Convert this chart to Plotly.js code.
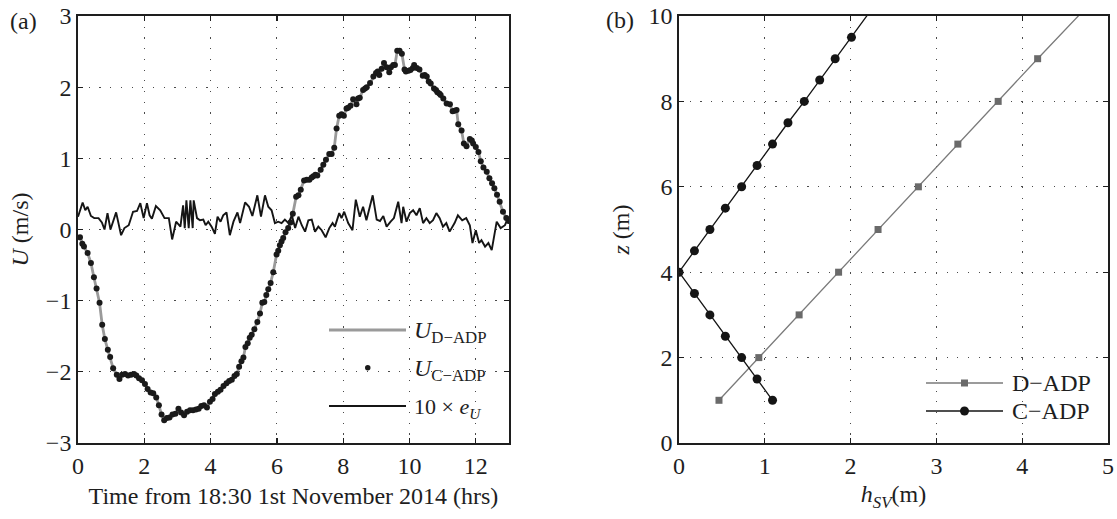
<!DOCTYPE html>
<html>
<head>
<meta charset="utf-8">
<script src="https://cdn.plot.ly/plotly-3.0.1.min.js"></script>
<style>
  html, body { margin: 0; padding: 0; background: #fff; }
  #chart { width: 1117px; height: 519px; }
</style>
</head>
<body>
<div id="chart"></div>
<script>
// (a) depth-averaged velocity time series
const tHrs = [0.06,0.13,0.18,0.29,0.39,0.48,0.56,0.65,0.73,0.81,0.9,0.97,1.06,1.17,1.25,1.33,1.42,1.51,1.6,1.69,1.76,1.84,1.93,2.02,2.1,2.19,2.27,2.36,2.44,2.52,2.6,2.68,2.76,2.85,2.94,3.03,3.11,3.2,3.29,3.38,3.47,3.56,3.64,3.72,3.8,3.89,3.98,4.06,4.13,4.22,4.3,4.39,4.48,4.56,4.64,4.72,4.79,4.86,4.93,4.99,5.05,5.12,5.18,5.24,5.32,5.41,5.49,5.56,5.62,5.68,5.74,5.81,5.89,5.99,6.04,6.09,6.14,6.19,6.26,6.34,6.41,6.48,6.58,6.65,6.72,6.82,6.9,6.98,7.05,7.1,7.16,7.22,7.32,7.4,7.48,7.58,7.65,7.73,7.8,7.88,7.95,8.02,8.1,8.15,8.22,8.3,8.4,8.45,8.5,8.6,8.66,8.71,8.81,8.91,8.99,9.04,9.09,9.16,9.23,9.31,9.39,9.44,9.51,9.56,9.63,9.7,9.77,9.85,9.89,9.97,10.03,10.1,10.14,10.22,10.3,10.4,10.46,10.52,10.58,10.64,10.74,10.8,10.84,10.9,10.94,11.02,11.12,11.22,11.3,11.36,11.42,11.47,11.57,11.64,11.72,11.82,11.88,11.92,12.0,12.08,12.15,12.23,12.33,12.41,12.49,12.56,12.64,12.72,12.82,12.92,12.99];

const uCadp = [-0.11,-0.2,-0.24,-0.33,-0.47,-0.67,-0.83,-1.03,-1.34,-1.54,-1.69,-1.79,-1.95,-2.04,-2.1,-2.04,-2.03,-2.05,-2.04,-2.03,-2.05,-2.09,-2.12,-2.17,-2.24,-2.29,-2.3,-2.36,-2.47,-2.6,-2.68,-2.65,-2.64,-2.6,-2.59,-2.52,-2.57,-2.61,-2.56,-2.54,-2.54,-2.53,-2.52,-2.48,-2.47,-2.5,-2.42,-2.38,-2.31,-2.28,-2.25,-2.2,-2.16,-2.13,-2.11,-2.06,-2.03,-1.93,-1.85,-1.8,-1.65,-1.6,-1.52,-1.48,-1.4,-1.3,-1.18,-1.03,-1.02,-0.92,-0.84,-0.75,-0.6,-0.35,-0.3,-0.22,-0.17,-0.12,-0.04,0.02,0.1,0.22,0.46,0.48,0.56,0.69,0.7,0.7,0.73,0.75,0.77,0.76,0.84,0.91,0.98,1.06,1.06,1.15,1.42,1.6,1.62,1.6,1.7,1.71,1.74,1.83,1.76,1.84,1.85,1.96,1.98,2.0,2.06,2.15,2.2,2.22,2.17,2.26,2.34,2.28,2.21,2.28,2.31,2.31,2.51,2.51,2.47,2.25,2.22,2.23,2.24,2.27,2.31,2.27,2.25,2.16,2.17,2.15,2.08,2.05,1.98,1.96,1.93,1.91,1.89,1.84,1.77,1.76,1.66,1.67,1.68,1.48,1.39,1.21,1.17,1.27,1.25,1.21,1.16,1.09,0.96,0.87,0.81,0.72,0.65,0.58,0.49,0.39,0.25,0.16,0.12];

const uDadp = [-0.11,-0.2,-0.24,-0.33,-0.47,-0.67,-0.83,-1.03,-1.34,-1.54,-1.69,-1.79,-1.95,-2.04,-2.1,-2.04,-2.03,-2.05,-2.04,-2.03,-2.05,-2.09,-2.12,-2.17,-2.24,-2.29,-2.3,-2.36,-2.47,-2.6,-2.68,-2.65,-2.64,-2.6,-2.59,-2.52,-2.57,-2.61,-2.56,-2.54,-2.54,-2.53,-2.52,-2.48,-2.47,-2.5,-2.42,-2.38,-2.31,-2.28,-2.25,-2.2,-2.16,-2.13,-2.11,-2.06,-2.03,-1.93,-1.85,-1.8,-1.65,-1.6,-1.52,-1.48,-1.4,-1.3,-1.18,-1.03,-1.02,-0.92,-0.84,-0.75,-0.6,-0.35,-0.3,-0.22,-0.17,-0.12,-0.04,0.02,0.1,0.22,0.46,0.48,0.56,0.69,0.7,0.7,0.73,0.75,0.77,0.76,0.84,0.91,0.98,1.06,1.06,1.15,1.42,1.6,1.62,1.6,1.7,1.71,1.74,1.83,1.76,1.84,1.85,1.96,1.98,2.0,2.06,2.15,2.2,2.22,2.17,2.26,2.34,2.28,2.21,2.28,2.31,2.31,2.51,2.51,2.47,2.25,2.22,2.23,2.24,2.27,2.31,2.27,2.25,2.16,2.17,2.15,2.08,2.05,1.98,1.96,1.93,1.91,1.89,1.84,1.77,1.76,1.66,1.67,1.68,1.48,1.39,1.21,1.17,1.27,1.25,1.21,1.16,1.09,0.96,0.87,0.81,0.72,0.65,0.58,0.49,0.39,0.25,0.16,0.12];

// 10 x e_U, difference between the two profilers
const tErr = [0,0.07,0.14,0.22,0.29,0.39,0.49,0.62,0.72,0.8,0.89,0.98,1.07,1.15,1.3,1.4,1.53,1.66,1.78,1.88,1.98,2.08,2.16,2.23,2.35,2.48,2.61,2.74,2.84,2.96,3.09,3.17,3.22,3.27,3.34,3.39,3.46,3.49,3.59,3.68,3.78,3.85,3.93,4.03,4.13,4.21,4.3,4.38,4.48,4.58,4.69,4.81,4.89,5.04,5.16,5.26,5.41,5.52,5.64,5.74,5.84,5.94,6.04,6.14,6.24,6.35,6.45,6.55,6.65,6.75,6.85,6.95,7.05,7.15,7.25,7.35,7.47,7.58,7.68,7.75,7.88,7.95,8.03,8.15,8.28,8.38,8.5,8.6,8.7,8.89,9.01,9.11,9.21,9.31,9.43,9.53,9.66,9.76,9.81,9.91,10.01,10.11,10.21,10.31,10.41,10.51,10.61,10.71,10.81,10.91,11.01,11.11,11.21,11.36,11.46,11.59,11.71,11.82,11.9,12.0,12.1,12.17,12.28,12.38,12.48,12.63,12.75,12.88,12.95,13.0];
const eU10 = [0.18,0.3,0.38,0.27,0.32,0.19,0.16,0.16,0.1,0.0,0.23,0.0,0.12,0.24,-0.08,0.02,0.06,0.25,0.26,0.37,0.16,0.37,0.2,0.15,0.33,0.27,0.16,0.16,-0.14,0.11,0.04,0.34,0.02,0.41,0.02,0.41,0.02,0.41,0.16,0.13,0.14,0.06,0.11,0.04,-0.06,0.18,0.11,0.2,0.24,-0.08,0.11,0.24,0.09,0.38,0.32,0.19,0.48,0.18,0.48,0.32,0.27,0.09,0.11,0.09,0.14,0.09,0.2,0.02,0.18,0.06,-0.03,0.13,0.14,-0.03,0.04,-0.01,-0.11,0.02,0.09,0.04,0.23,0.16,0.25,0.09,-0.01,0.42,0.18,0.32,0.13,0.48,0.14,0.12,0.19,0.04,0.11,0.16,0.39,0.09,0.32,0.11,0.23,0.27,0.2,0.3,0.09,0.16,0.09,0.13,0.23,0.16,0.04,0.09,-0.03,0.09,0.2,0.13,0.16,0.06,-0.19,-0.01,-0.19,-0.15,-0.24,-0.19,-0.29,0.11,0.02,0.06,0.14,0.12];

// (b) h_SV profiles against height above bed
const zDadp = [1,2,3,4,5,6,7,8,9,10.5];
const hDadp = [0.466,0.93,1.4,1.86,2.32,2.79,3.25,3.72,4.18,4.89];
const zCadp = [1,1.5,2,2.5,3,3.5,4,4.5,5,5.5,6,6.5,7,7.5,8,8.5,9,9.5,10.5];
const hCadp = [1.09,0.91,0.73,0.54,0.36,0.18,0,0.18,0.36,0.54,0.73,0.91,1.09,1.27,1.46,1.64,1.82,2.01,2.37];

const xTicksA = [0,2,4,6,8,10,12];
const yTicksA = [-3,-2,-1,0,1,2,3];
const xTicksB = [0,1,2,3,4,5];
const yTicksB = [0,2,4,6,8,10];

const FONT = 'Liberation Serif, Times New Roman, serif';
const INK = '#1e1e1e';
const W = 1117, H = 519;
const M = { l: 78, r: 9, t: 16, b: 76 };
// page pixels -> paper fractions (paper spans the plotting area inside the margins)
const px = v => (v - M.l) / (W - M.l - M.r);
const py = v => 1 - (v - M.t) / (H - M.t - M.b);

const traces = [
  { x: tHrs, y: uDadp, mode: 'lines', line: { color: '#9a9a9a', width: 2.8 },
    xaxis: 'x', yaxis: 'y', name: 'U D-ADP', showlegend: false },
  { x: tErr, y: eU10, mode: 'lines', line: { color: '#151515', width: 1.9 },
    xaxis: 'x', yaxis: 'y', name: '10 x eU', showlegend: false },
  { x: tHrs, y: uCadp, mode: 'markers', marker: { color: '#1a1a1a', size: 6 },
    xaxis: 'x', yaxis: 'y', name: 'U C-ADP', showlegend: false },
  { x: hDadp, y: zDadp, mode: 'lines+markers',
    line: { color: '#7a7a7a', width: 1.3 },
    marker: { symbol: 'square', size: 7, color: '#6a6a6a' },
    xaxis: 'x2', yaxis: 'y2', name: 'D-ADP', showlegend: false },
  { x: hCadp, y: zCadp, mode: 'lines+markers',
    line: { color: '#151515', width: 1.3 },
    marker: { symbol: 'circle', size: 9, color: '#151515' },
    xaxis: 'x2', yaxis: 'y2', name: 'C-ADP', showlegend: false }
];

function axisBase(extra) {
  return Object.assign({
    showline: true, linecolor: INK, linewidth: 1.8, mirror: 'ticks',
    ticks: 'inside', ticklen: 5, tickwidth: 1.3, tickcolor: INK,
    showgrid: true, gridcolor: '#4a4a4a', gridwidth: 1, griddash: '1.2px,9.5px',
    zeroline: false, fixedrange: true,
    tickfont: { family: FONT, size: 24, color: INK }
  }, extra);
}

const legendText = (text, x, y, size) => ({
  text, xref: 'paper', yref: 'paper', x: px(x), y: py(y),
  xanchor: 'left', yanchor: 'middle', showarrow: false,
  font: { family: FONT, size, color: INK }
});

const layout = {
  width: W, height: H,
  margin: M,
  paper_bgcolor: '#ffffff', plot_bgcolor: '#ffffff',
  font: { family: FONT, color: INK },
  showlegend: false,
  xaxis: axisBase({ domain: [0, 0.4184], range: [0, 13], tickvals: xTicksA,
    anchor: 'y',
    title: { text: 'Time from 18:30 1st November 2014 (hrs)', standoff: 10,
             font: { family: FONT, size: 24, color: INK } } }),
  yaxis: axisBase({ domain: [0, 1], range: [-3, 3], tickvals: yTicksA,
    anchor: 'x',
    title: { text: '<i>U</i> (m/s)', standoff: 10,
             font: { family: FONT, size: 24, color: INK } } }),
  xaxis2: axisBase({ domain: [0.5835, 1], range: [0, 5], tickvals: xTicksB,
    anchor: 'y2',
    title: { text: '<i>h</i><sub><i>SV</i></sub>(m)', standoff: 8,
             font: { family: FONT, size: 24, color: INK } } }),
  yaxis2: axisBase({ domain: [0, 1], range: [0, 10], tickvals: yTicksB,
    anchor: 'x2',
    title: { text: '<i>z</i> (m)', standoff: 12,
             font: { family: FONT, size: 24, color: INK } } }),
  shapes: [
    // legend samples, panel (a)
    { type: 'line', xref: 'paper', yref: 'paper', x0: px(329), x1: px(406), y0: py(330), y1: py(330),
      line: { color: '#9a9a9a', width: 2.8 } },
    { type: 'circle', xref: 'paper', yref: 'paper', x0: px(365), x1: px(370.5), y0: py(365), y1: py(370.5),
      fillcolor: '#1a1a1a', line: { width: 0 } },
    { type: 'line', xref: 'paper', yref: 'paper', x0: px(329), x1: px(406), y0: py(406), y1: py(406),
      line: { color: '#151515', width: 1.9 } },
    // legend samples, panel (b)
    { type: 'line', xref: 'paper', yref: 'paper', x0: px(926), x1: px(1003), y0: py(383), y1: py(383),
      line: { color: '#7a7a7a', width: 1.3 } },
    { type: 'rect', xref: 'paper', yref: 'paper', x0: px(961), x1: px(968), y0: py(379.5), y1: py(386.5),
      fillcolor: '#6a6a6a', line: { width: 0 } },
    { type: 'line', xref: 'paper', yref: 'paper', x0: px(926), x1: px(1003), y0: py(411), y1: py(411),
      line: { color: '#151515', width: 1.3 } },
    { type: 'circle', xref: 'paper', yref: 'paper', x0: px(960), x1: px(969), y0: py(406.5), y1: py(415.5),
      fillcolor: '#151515', line: { width: 0 } }
  ],
  annotations: [
    legendText('(a)', 8, 21, 24),
    legendText('(b)', 604, 20, 24),
    legendText('<i>U</i><sub>D−ADP</sub>', 412, 332, 24),
    legendText('<i>U</i><sub>C−ADP</sub>', 412, 370, 24),
    legendText('10 × <i>e</i><sub><i>U</i></sub>', 412, 408, 22),
    legendText('D−ADP', 1010, 383, 24),
    legendText('C−ADP', 1010, 411, 24)
  ]
};

Plotly.newPlot('chart', traces, layout, { staticPlot: true, displayModeBar: false });
</script>
</body>
</html>
